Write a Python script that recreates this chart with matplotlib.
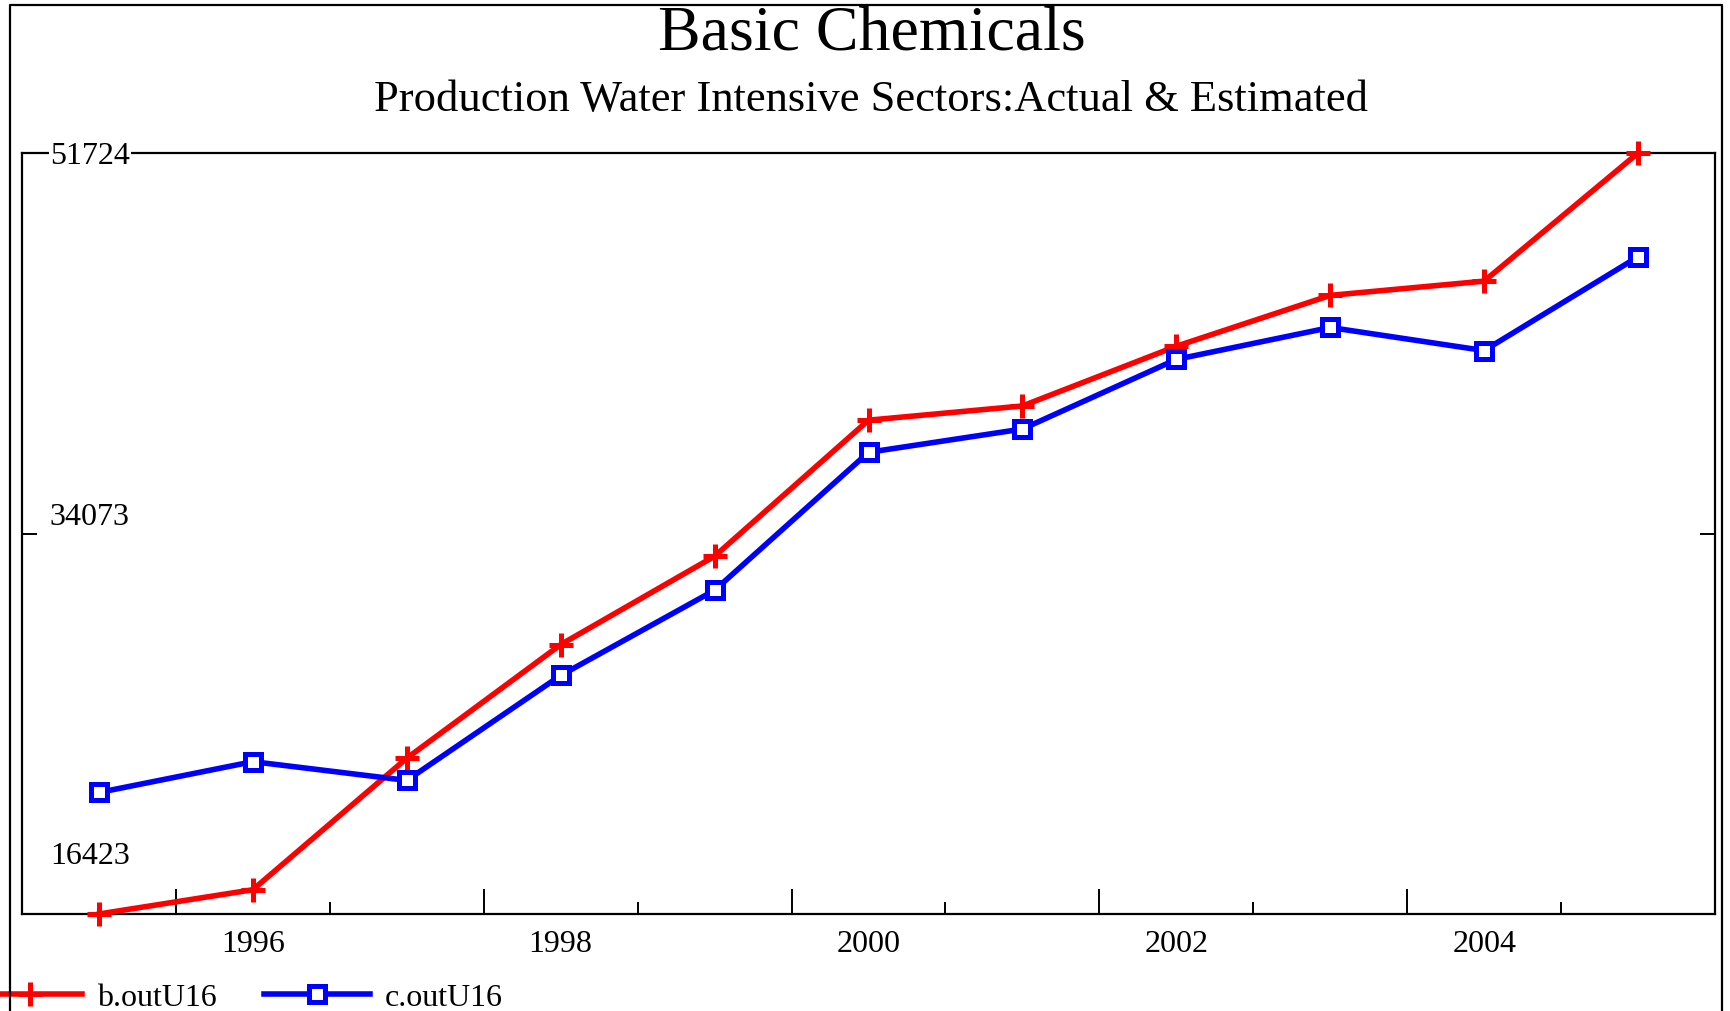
import numpy as np
import matplotlib
matplotlib.use('Agg')
import matplotlib.pyplot as plt
from matplotlib.lines import Line2D
from matplotlib.ticker import FixedLocator, NullFormatter
import matplotlib.transforms as mtransforms

plt.rcParams['font.family'] = ['Liberation Serif', 'DejaVu Serif']

years = [1995, 1996, 1997, 1998, 1999, 2000, 2001, 2002, 2003, 2004, 2005]
b_out = [16423, 17550, 23650, 28920, 33020, 39330, 39990, 42760, 45120, 45780, 51724]
c_out = [22060, 23490, 22620, 27490, 31440, 37840, 38920, 42150, 43630, 42560, 46910]

y_ticks = [16423, 34073, 51724]
x_labels = [1996, 1998, 2000, 2002, 2004]

title = 'Basic Chemicals'
subtitle = 'Production Water Intensive Sectors:Actual & Estimated'

W, H = 1730, 1012
fig = plt.figure(figsize=(W / 100, H / 100), dpi=100)
ax = fig.add_axes([22 / W, 1 - 915 / H, (1715 - 22) / W, (915 - 154) / H])

ax.plot(years, b_out, color='#ff0000', lw=4, marker='+', ms=17, mew=3.6,
        clip_on=False, zorder=4, label='b.outU16')
ax.plot(years, c_out, color='#0000ff', lw=4, marker='s', ms=11, mew=3.6,
        mfc='white', clip_on=False, zorder=4, label='c.outU16')

ax.set_xlim(years[0] - 0.5, years[-1] + 0.5)
ax.set_ylim(y_ticks[0], y_ticks[-1])

for s in ax.spines.values():
    s.set_linewidth(1.6)

# x ticks sit between years, labels sit on the years
ax.xaxis.set_major_locator(FixedLocator(np.arange(1995.5, 2004, 2)))
ax.xaxis.set_minor_locator(FixedLocator(np.arange(1996.5, 2005, 2)))
ax.xaxis.set_major_formatter(NullFormatter())
ax.tick_params(axis='x', which='major', direction='in', length=18, width=1.4)
ax.tick_params(axis='x', which='minor', direction='in', length=9, width=1.4)
trans_x = mtransforms.blended_transform_factory(ax.transData, ax.transAxes)
for yr in x_labels:
    ax.annotate(str(yr), xy=(yr, 0), xycoords=trans_x, xytext=(0, -21),
                textcoords='offset points', ha='center', va='center', fontsize=23)

# y ticks: inward on both sides, labels inside the plot
ax.set_yticks([y_ticks[1]])
ax.set_yticklabels([])
ax.tick_params(axis='y', direction='in', length=11, width=1.4, left=True, right=True)
trans_y = mtransforms.blended_transform_factory(ax.transAxes, ax.transData)
offsets = [42, 12, -2]
for v, off in zip(y_ticks, offsets):
    t = ax.annotate(str(v), xy=(0, v), xycoords=trans_y, xytext=(20, off),
                    textcoords='offset points', ha='left', va='center', fontsize=23,
                    zorder=5, annotation_clip=False)
    if v == y_ticks[-1]:
        t.set_bbox(dict(facecolor='white', edgecolor='none', pad=1))

fig.text(872 / W, 1 - 34 / H, title, ha='center', va='center', fontsize=46)
fig.text(871 / W, 1 - 100 / H, subtitle, ha='center', va='center', fontsize=32)

# outer frame (open at the bottom)
fx0, fx1, fy1 = 10 / W, 1722 / W, 1 - 6 / H
fig.add_artist(Line2D([fx0, fx0, fx1, fx1], [-0.02, fy1, fy1, -0.02],
                      transform=fig.transFigure, color='black', lw=1.6, zorder=10))

leg = fig.legend(loc='center left', bbox_to_anchor=(-23 / W, 1 - 998 / H), ncol=2,
                 frameon=False, fontsize=23, handlelength=3.3, handletextpad=0.45,
                 columnspacing=1.5, borderpad=0, borderaxespad=0, numpoints=1)

fig.savefig('out.png', dpi=100)
